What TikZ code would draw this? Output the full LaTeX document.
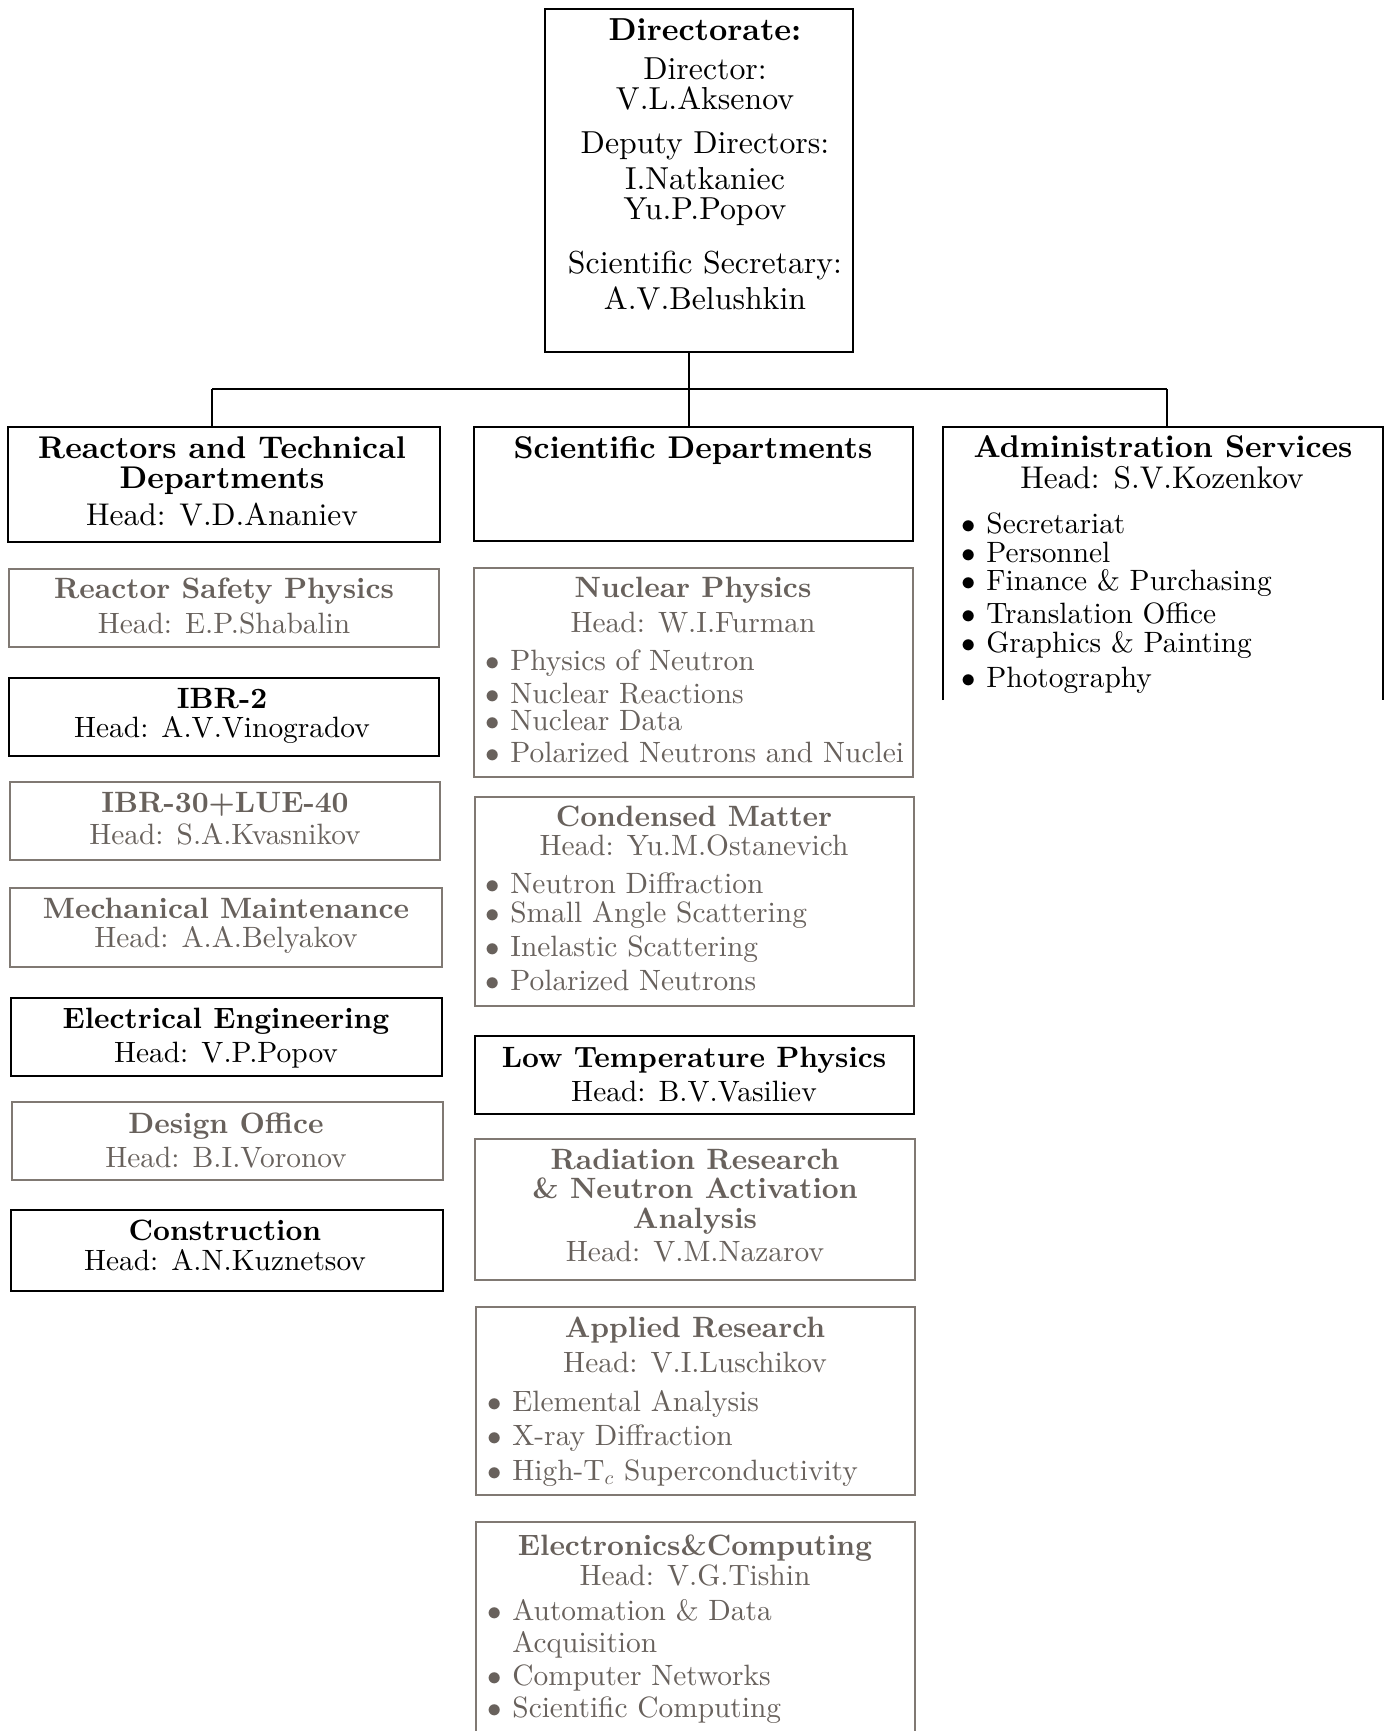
\documentclass[tikz,border=0pt]{standalone}
\usepackage{fontspec}
\setmainfont{lmroman10-regular}[Extension=.otf, BoldFont=lmroman10-bold, ItalicFont=lmroman10-italic, BoldItalicFont=lmroman10-bolditalic]
\definecolor{gtext}{RGB}{104,97,92}
\definecolor{gborder}{RGB}{128,121,115}
\newcommand\fszA{\fontsize{15.9}{17}\selectfont}
\newcommand\fszB{\fontsize{15.7}{17}\selectfont}
\newcommand\fszC{\fontsize{14.7}{16}\selectfont}
\newcommand\bul{\makebox[12.5pt][l]{$\bullet$}}
\begin{document}
\begin{tikzpicture}[x=0.5pt,y=-0.5pt,
  bbox/.style={draw=black, line width=1.1pt, inner sep=0pt, outer sep=0pt},
  gbox/.style={draw=gborder, line width=0.8pt, inner sep=0pt, outer sep=0pt},
  conn/.style={line width=0.8pt},
  dtx/.style={anchor=base, inner sep=0pt, font=\fszA},
  ttx/.style={anchor=base, inner sep=0pt, font=\fszB},
  btx/.style={anchor=base, inner sep=0pt, font=\fszC},
  gtx/.style={btx, text=gtext},
  itm/.style={anchor=base west, inner sep=0pt, font=\fszC},
  gitm/.style={itm, text=gtext}]
\useasboundingbox[fill=white] (0,0) rectangle (1389,1731);

% ---------- boxes ----------
\node[bbox, minimum width=154pt, minimum height=171.5pt] (dir) at (699,180.5) {};
\node[bbox, minimum width=216pt, minimum height=57.5pt] (rtd) at (224,484.5) {};
\node[bbox, minimum width=219.5pt, minimum height=57pt] (sci) at (693.5,484) {};
\node[inner sep=0pt, outer sep=0pt, minimum width=220pt, minimum height=136.5pt] (adm) at (1163,563.5) {};
\draw[line width=1.1pt] (adm.south west) -- (adm.north west) -- (adm.north east) -- (adm.south east);

\node[gbox, minimum width=215pt, minimum height=39pt] (rsp) at (224,608) {};
\node[bbox, minimum width=215pt, minimum height=39pt] (ibrtwo) at (224,717) {};
\node[gbox, minimum width=215pt, minimum height=39pt] (ibrthirty) at (225,821) {};
\node[gbox, minimum width=216pt, minimum height=39.5pt] (mech) at (226,927.5) {};
\node[bbox, minimum width=215.5pt, minimum height=39pt] (elec) at (226.5,1037) {};
\node[gbox, minimum width=215.5pt, minimum height=39pt] (des) at (227.5,1141) {};
\node[bbox, minimum width=216pt, minimum height=40.5pt] (cons) at (227,1250.5) {};

\node[gbox, minimum width=219.5pt, minimum height=104.5pt] (nuc) at (693.5,672.5) {};
\node[gbox, minimum width=219.5pt, minimum height=104.5pt] (cond) at (694.5,901.5) {};
\node[bbox, minimum width=219.5pt, minimum height=39pt] (lowt) at (694.5,1075) {};
\node[gbox, minimum width=220pt, minimum height=70.5pt] (rad) at (695,1209.5) {};
\node[gbox, minimum width=219.5pt, minimum height=94pt] (appl) at (695.5,1401) {};
\node[gbox, minimum width=219.5pt, minimum height=119pt] (elco) at (695.5,1641) {};

% ---------- connectors ----------
\coordinate (hl) at (212,389);
\coordinate (hm) at (689,389);
\coordinate (hr) at (1167,389);
\draw[conn] (hm |- dir.south) -- (hm);
\draw[conn] (hl) -- (hr);
\draw[conn] (hl) -- (hl |- rtd.north);
\draw[conn] (hm) -- (hm |- sci.north);
\draw[conn] (hr) -- (hr |- adm.north);

% ---------- Directorate ----------
\node[dtx] (d1) at (705,40) {\bfseries Directorate:};
\node[dtx] (d2) at (705,79) {Director:};
\node[dtx] (d3) at (705,109) {V.L.Aksenov};
\node[dtx] (d4) at (705,153) {Deputy Directors:};
\node[dtx] (d5) at (705,189) {I.Natkaniec};
\node[dtx] (d6) at (705,219) {Yu.P.Popov};
\node[dtx] (d7) at (705,273) {Scientific Secretary:};
\node[dtx] (d8) at (705,309) {A.V.Belushkin};

% ---------- top row ----------
\node[ttx] (r1) at (222,458) {\bfseries Reactors and Technical};
\node[ttx] (r2) at (222,488) {\bfseries Departments};
\node[ttx] (r3) at (222,525) {Head: V.D.Ananiev};

\node[ttx] (s1) at (693,458) {\bfseries Scientific Departments};

\node[ttx] (a1) at (1163,457) {\bfseries Administration Services};
\node[ttx] (a2) at (1162,488) {Head: S.V.Kozenkov};
\node[itm] (a3) at (961,533) {\bul Secretariat};
\node[itm] (a4) at (961,562) {\bul Personnel};
\node[itm] (a5) at (961,590) {\bul Finance \& Purchasing};
\node[itm] (a6) at (961,623) {\bul Translation Office};
\node[itm] (a7) at (961,652) {\bul Graphics \& Painting};
\node[itm] (a8) at (961,687) {\bul Photography};

% ---------- left column ----------
\node[gtx] (rsp1) at (224,598) {\bfseries Reactor Safety Physics};
\node[gtx] (rsp2) at (224,633) {Head: E.P.Shabalin};
\node[btx] (ib1) at (222,708) {\bfseries IBR-2};
\node[btx] (ib2) at (222,737) {Head: A.V.Vinogradov};
\node[gtx] (it1) at (225,812) {\bfseries IBR-30+LUE-40};
\node[gtx] (it2) at (225,844) {Head: S.A.Kvasnikov};
\node[gtx] (m1) at (226,918) {\bfseries Mechanical Maintenance};
\node[gtx] (m2) at (226,947) {Head: A.A.Belyakov};
\node[btx] (e1) at (226,1028) {\bfseries Electrical Engineering};
\node[btx] (e2) at (226,1062) {Head: V.P.Popov};
\node[gtx] (de1) at (226,1133) {\bfseries Design Office};
\node[gtx] (de2) at (226,1167) {Head: B.I.Voronov};
\node[btx] (c1) at (225,1240) {\bfseries Construction};
\node[btx] (c2) at (225,1270) {Head: A.N.Kuznetsov};

% ---------- middle column ----------
\node[gtx] (n1) at (693,597) {\bfseries Nuclear Physics};
\node[gtx] (n2) at (693,632) {Head: W.I.Furman};
\node[gitm] (n3) at (485,670) {\bul Physics of Neutron};
\node[gitm] (n4) at (485,703) {\bul Nuclear Reactions};
\node[gitm] (n5) at (485,730) {\bul Nuclear Data};
\node[gitm] (n6) at (485,762) {\bul Polarized Neutrons and Nuclei};

\node[gtx] (cm1) at (694,826) {\bfseries Condensed Matter};
\node[gtx] (cm2) at (694,855) {Head: Yu.M.Ostanevich};
\node[gitm] (cm3) at (485,893) {\bul Neutron Diffraction};
\node[gitm] (cm4) at (485,922) {\bul Small Angle Scattering};
\node[gitm] (cm5) at (485,956) {\bul Inelastic Scattering};
\node[gitm] (cm6) at (485,990) {\bul Polarized Neutrons};

\node[btx] (lt1) at (694,1067) {\bfseries Low Temperature Physics};
\node[btx] (lt2) at (694,1101) {Head: B.V.Vasiliev};

\node[gtx] (ra1) at (695,1169) {\bfseries Radiation Research};
\node[gtx] (ra2) at (695,1198) {\bfseries \& Neutron Activation};
\node[gtx] (ra3) at (695,1228) {\bfseries Analysis};
\node[gtx] (ra4) at (695,1261) {Head: V.M.Nazarov};

\node[gtx] (ap1) at (695,1337) {\bfseries Applied Research};
\node[gtx] (ap2) at (695,1372) {Head: V.I.Luschikov};
\node[gitm] (ap3) at (487,1411) {\bul Elemental Analysis};
\node[gitm] (ap4) at (487,1445) {\bul X-ray Diffraction};
\node[gitm] (ap5) at (487,1480) {\bul High-T$_c$ Superconductivity};

\node[gtx] (ec1) at (695,1555) {\bfseries Electronics\&Computing};
\node[gtx] (ec2) at (695,1585) {Head: V.G.Tishin};
\node[gitm] (ec3) at (487,1620) {\bul Automation \& Data};
\node[gitm] (ec4) at (512,1652) {Acquisition};
\node[gitm] (ec5) at (487,1685) {\bul Computer Networks};
\node[gitm] (ec6) at (487,1717) {\bul Scientific Computing};
\end{tikzpicture}
\end{document}
